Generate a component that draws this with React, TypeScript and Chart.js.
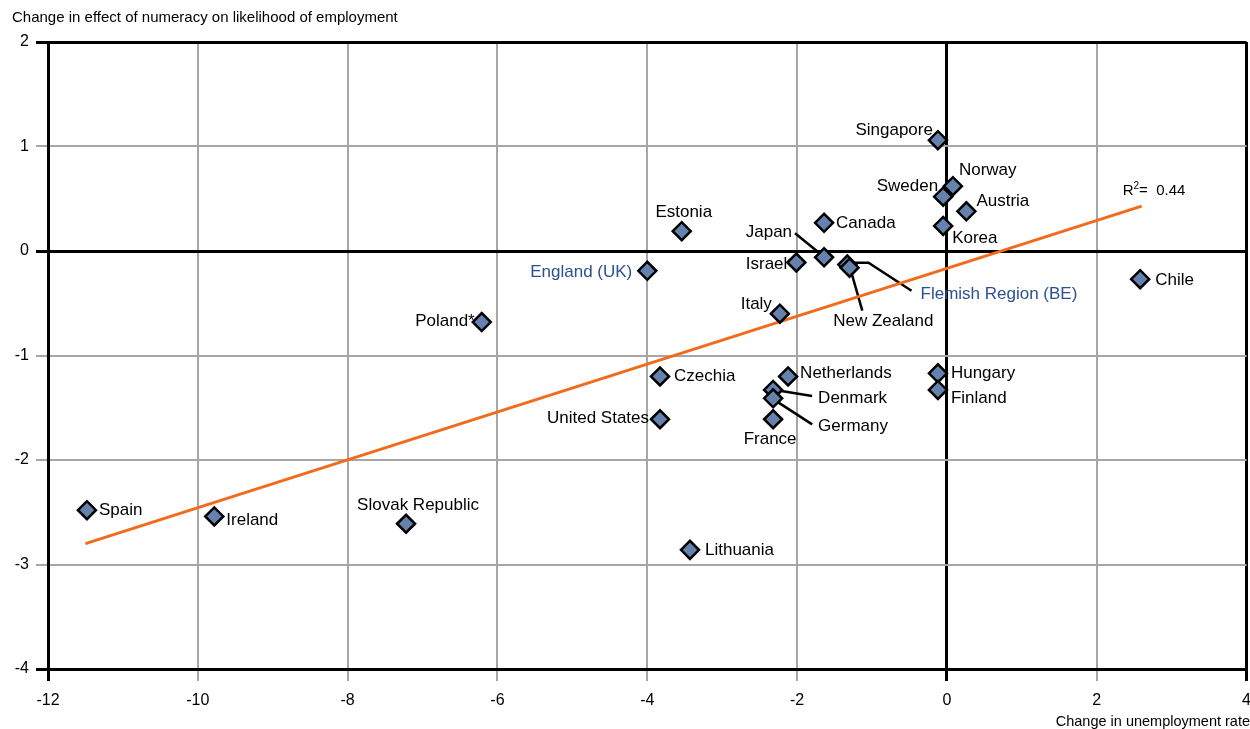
import React, { useEffect, useRef } from "react";
import { Chart, registerables } from "chart.js";

Chart.register(...registerables);

const countries = [
  "Singapore", "Norway", "Sweden", "Austria", "Korea", "Canada", "Estonia", "Japan", "Israel",
  "New Zealand", "Flemish Region (BE)", "England (UK)", "Chile", "Poland*", "Italy", "Czechia",
  "Netherlands", "Denmark", "Germany", "France", "Hungary", "Finland", "United States", "Spain",
  "Ireland", "Slovak Republic", "Lithuania",
];
const changeUnemployment = [
  -0.12, 0.08, -0.05, 0.26, -0.05, -1.64, -3.54, -1.64, -2.01,
  -1.33, -1.30, -4.0, 2.58, -6.21, -2.23, -3.83,
  -2.12, -2.32, -2.32, -2.32, -0.12, -0.12, -3.83, -11.48,
  -9.78, -7.22, -3.43,
];
const changeNumeracyEffect = [
  1.06, 0.62, 0.52, 0.38, 0.24, 0.27, 0.19, -0.06, -0.11,
  -0.13, -0.16, -0.19, -0.27, -0.68, -0.60, -1.20,
  -1.20, -1.33, -1.41, -1.61, -1.17, -1.33, -1.61, -2.48,
  -2.54, -2.61, -2.86,
];
const trendX = [-11.5, 2.6];
const trendY = [-2.8, 0.43];
const rSquared = "0.44";

const yAxisTitle = "Change in effect of numeracy on likelihood of employment";
const xAxisTitle = "Change in unemployment rate";

// label placement (pixels relative to the marker)
type LabelPos = { dx: number; dy: number; align: CanvasTextAlign; line?: number[][]; blue?: boolean };
const labelPos: Record<string, LabelPos> = {
  "Singapore": { dx: -5, dy: -10, align: "right" },
  "Norway": { dx: 6, dy: -16, align: "left" },
  "Sweden": { dx: -5, dy: -10, align: "right" },
  "Austria": { dx: 10, dy: -10, align: "left" },
  "Korea": { dx: 9, dy: 12, align: "left" },
  "Canada": { dx: 12, dy: 1, align: "left" },
  "Estonia": { dx: 2, dy: -19, align: "center" },
  "Japan": { dx: -32, dy: -25, align: "right", line: [[-29, -24], [-2, -2]] },
  "Israel": { dx: -9, dy: 2, align: "right" },
  "New Zealand": { dx: 36, dy: 57, align: "center", line: [[3, 4], [15, 46]] },
  "Flemish Region (BE)": { dx: 71, dy: 27, align: "left", blue: true, line: [[5, -5], [19, -5], [62, 23]] },
  "England (UK)": { dx: -15, dy: 1, align: "right", blue: true },
  "Chile": { dx: 15, dy: 1, align: "left" },
  "Poland*": { dx: -7, dy: -1, align: "right" },
  "Italy": { dx: -8, dy: -9, align: "right" },
  "Czechia": { dx: 14, dy: 0, align: "left" },
  "Netherlands": { dx: 12, dy: -3, align: "left" },
  "Denmark": { dx: 45, dy: 8, align: "left", line: [[2, 0], [39, 6]] },
  "Germany": { dx: 45, dy: 28, align: "left", line: [[2, 2], [39, 26]] },
  "France": { dx: -3, dy: 20, align: "center" },
  "Hungary": { dx: 13, dy: 0, align: "left" },
  "Finland": { dx: 13, dy: 8, align: "left" },
  "United States": { dx: -11, dy: -1, align: "right" },
  "Spain": { dx: 12, dy: 0, align: "left" },
  "Ireland": { dx: 12, dy: 4, align: "left" },
  "Slovak Republic": { dx: 12, dy: -18, align: "center" },
  "Lithuania": { dx: 15, dy: 0, align: "left" },
};

const FONT = "'Liberation Sans', Arial, sans-serif";
const CANVAS_W = 1261;

const labelPlugin = {
  id: "countryLabels",
  beforeDatasetsDraw(chart: any) {
    const ctx = chart.ctx;
    const meta = chart.getDatasetMeta(1);
    ctx.save();
    ctx.strokeStyle = "#000";
    ctx.lineWidth = 2.5;
    meta.data.forEach((pt: any, i: number) => {
      const p = labelPos[countries[i]];
      if (!p || !p.line) return;
      ctx.beginPath();
      p.line.forEach((q, k) => {
        if (k === 0) ctx.moveTo(pt.x + q[0], pt.y + q[1]);
        else ctx.lineTo(pt.x + q[0], pt.y + q[1]);
      });
      ctx.stroke();
    });
    ctx.restore();
  },
  afterDatasetsDraw(chart: any) {
    const ctx = chart.ctx;
    const meta = chart.getDatasetMeta(1);
    ctx.save();
    ctx.font = `17px ${FONT}`;
    ctx.textBaseline = "middle";
    meta.data.forEach((pt: any, i: number) => {
      const name = countries[i];
      const p = labelPos[name];
      ctx.fillStyle = p.blue ? "#2a5190" : "#000";
      ctx.textAlign = p.align;
      ctx.fillText(name, pt.x + p.dx, pt.y + p.dy);
    });
    // R squared label near end of trend line
    const tm = chart.getDatasetMeta(0);
    const end = tm.data[tm.data.length - 1];
    const rx = end.x - 19;
    const ry = end.y - 15;
    ctx.fillStyle = "#000";
    ctx.textAlign = "left";
    ctx.font = `15px ${FONT}`;
    ctx.fillText("R", rx, ry);
    const rw = ctx.measureText("R").width;
    ctx.font = `10px ${FONT}`;
    ctx.fillText("2", rx + rw, ry - 5);
    const tw = ctx.measureText("2").width;
    ctx.font = `15px ${FONT}`;
    ctx.fillText("=  " + rSquared, rx + rw + tw, ry);
    // axis titles
    ctx.font = `15px ${FONT}`;
    ctx.textAlign = "left";
    ctx.fillText(yAxisTitle, 12, 18);
    ctx.font = `14.5px ${FONT}`;
    ctx.textAlign = "right";
    ctx.fillText(xAxisTitle, 1250, 722);
    ctx.restore();
  },
};

const GRAY = "#a6a6a6";

export default function App() {
  const ref = useRef<HTMLCanvasElement | null>(null);
  useEffect(() => {
    if (!ref.current) return;
    const chart = new Chart(ref.current, {
      type: "scatter",
      data: {
        datasets: [
          {
            type: "line",
            data: trendX.map((x, i) => ({ x, y: trendY[i] })),
            borderColor: "#f26a1b",
            borderWidth: 3,
            pointRadius: 0,
            fill: false,
            order: 2,
          } as any,
          {
            type: "scatter",
            data: changeUnemployment.map((x, i) => ({ x, y: changeNumeracyEffect[i] })),
            pointStyle: "rectRot",
            pointRadius: 9,
            backgroundColor: "#6482ad",
            borderColor: "#000",
            borderWidth: 2.5,
            order: 1,
          },
        ],
      },
      options: {
        animation: false,
        responsive: false,
        devicePixelRatio: 1,
        layout: { padding: { top: 42, right: 0, left: 0, bottom: 0 } },
        plugins: { legend: { display: false }, tooltip: { enabled: false }, title: { display: false } },
        scales: {
          x: {
            type: "linear",
            min: -12,
            max: 4,
            ticks: { stepSize: 2, color: "#000", font: { size: 16, family: FONT }, padding: 10, maxRotation: 0 },
            grid: {
              color: (c: any) => (c.tick && (c.tick.value === 0 || c.tick.value === 4 || c.tick.value === -12) ? "#000" : GRAY),
              lineWidth: (c: any) => (c.tick && (c.tick.value === 0 || c.tick.value === 4 || c.tick.value === -12) ? 3 : 2),
              tickLength: 12,
            },
            border: { display: true, color: "#000", width: 3 },
            afterFit: (s: any) => { s.height = 60; },
          },
          y: {
            type: "linear",
            min: -4,
            max: 2,
            ticks: { stepSize: 1, color: "#000", font: { size: 16, family: FONT }, padding: 7 },
            grid: {
              color: (c: any) => (c.tick && (c.tick.value === 0 || c.tick.value === 2 || c.tick.value === -4) ? "#000" : GRAY),
              lineWidth: (c: any) => (c.tick && (c.tick.value === 0 || c.tick.value === 2 || c.tick.value === -4) ? 3 : 2),
              tickLength: 12,
            },
            border: { display: true, color: "#000", width: 3 },
            afterFit: (s: any) => { s.width = 48; },
          },
        },
      },
      plugins: [labelPlugin],
    } as any);
    return () => chart.destroy();
  }, []);
  return (
    <div style={{ position: "absolute", left: 0, top: 0, width: 1250, height: 729, overflow: "hidden", background: "#fff" }}>
      <canvas ref={ref} width={CANVAS_W} height={729} style={{ display: "block", width: CANVAS_W, height: 729 }} />
    </div>
  );
}
